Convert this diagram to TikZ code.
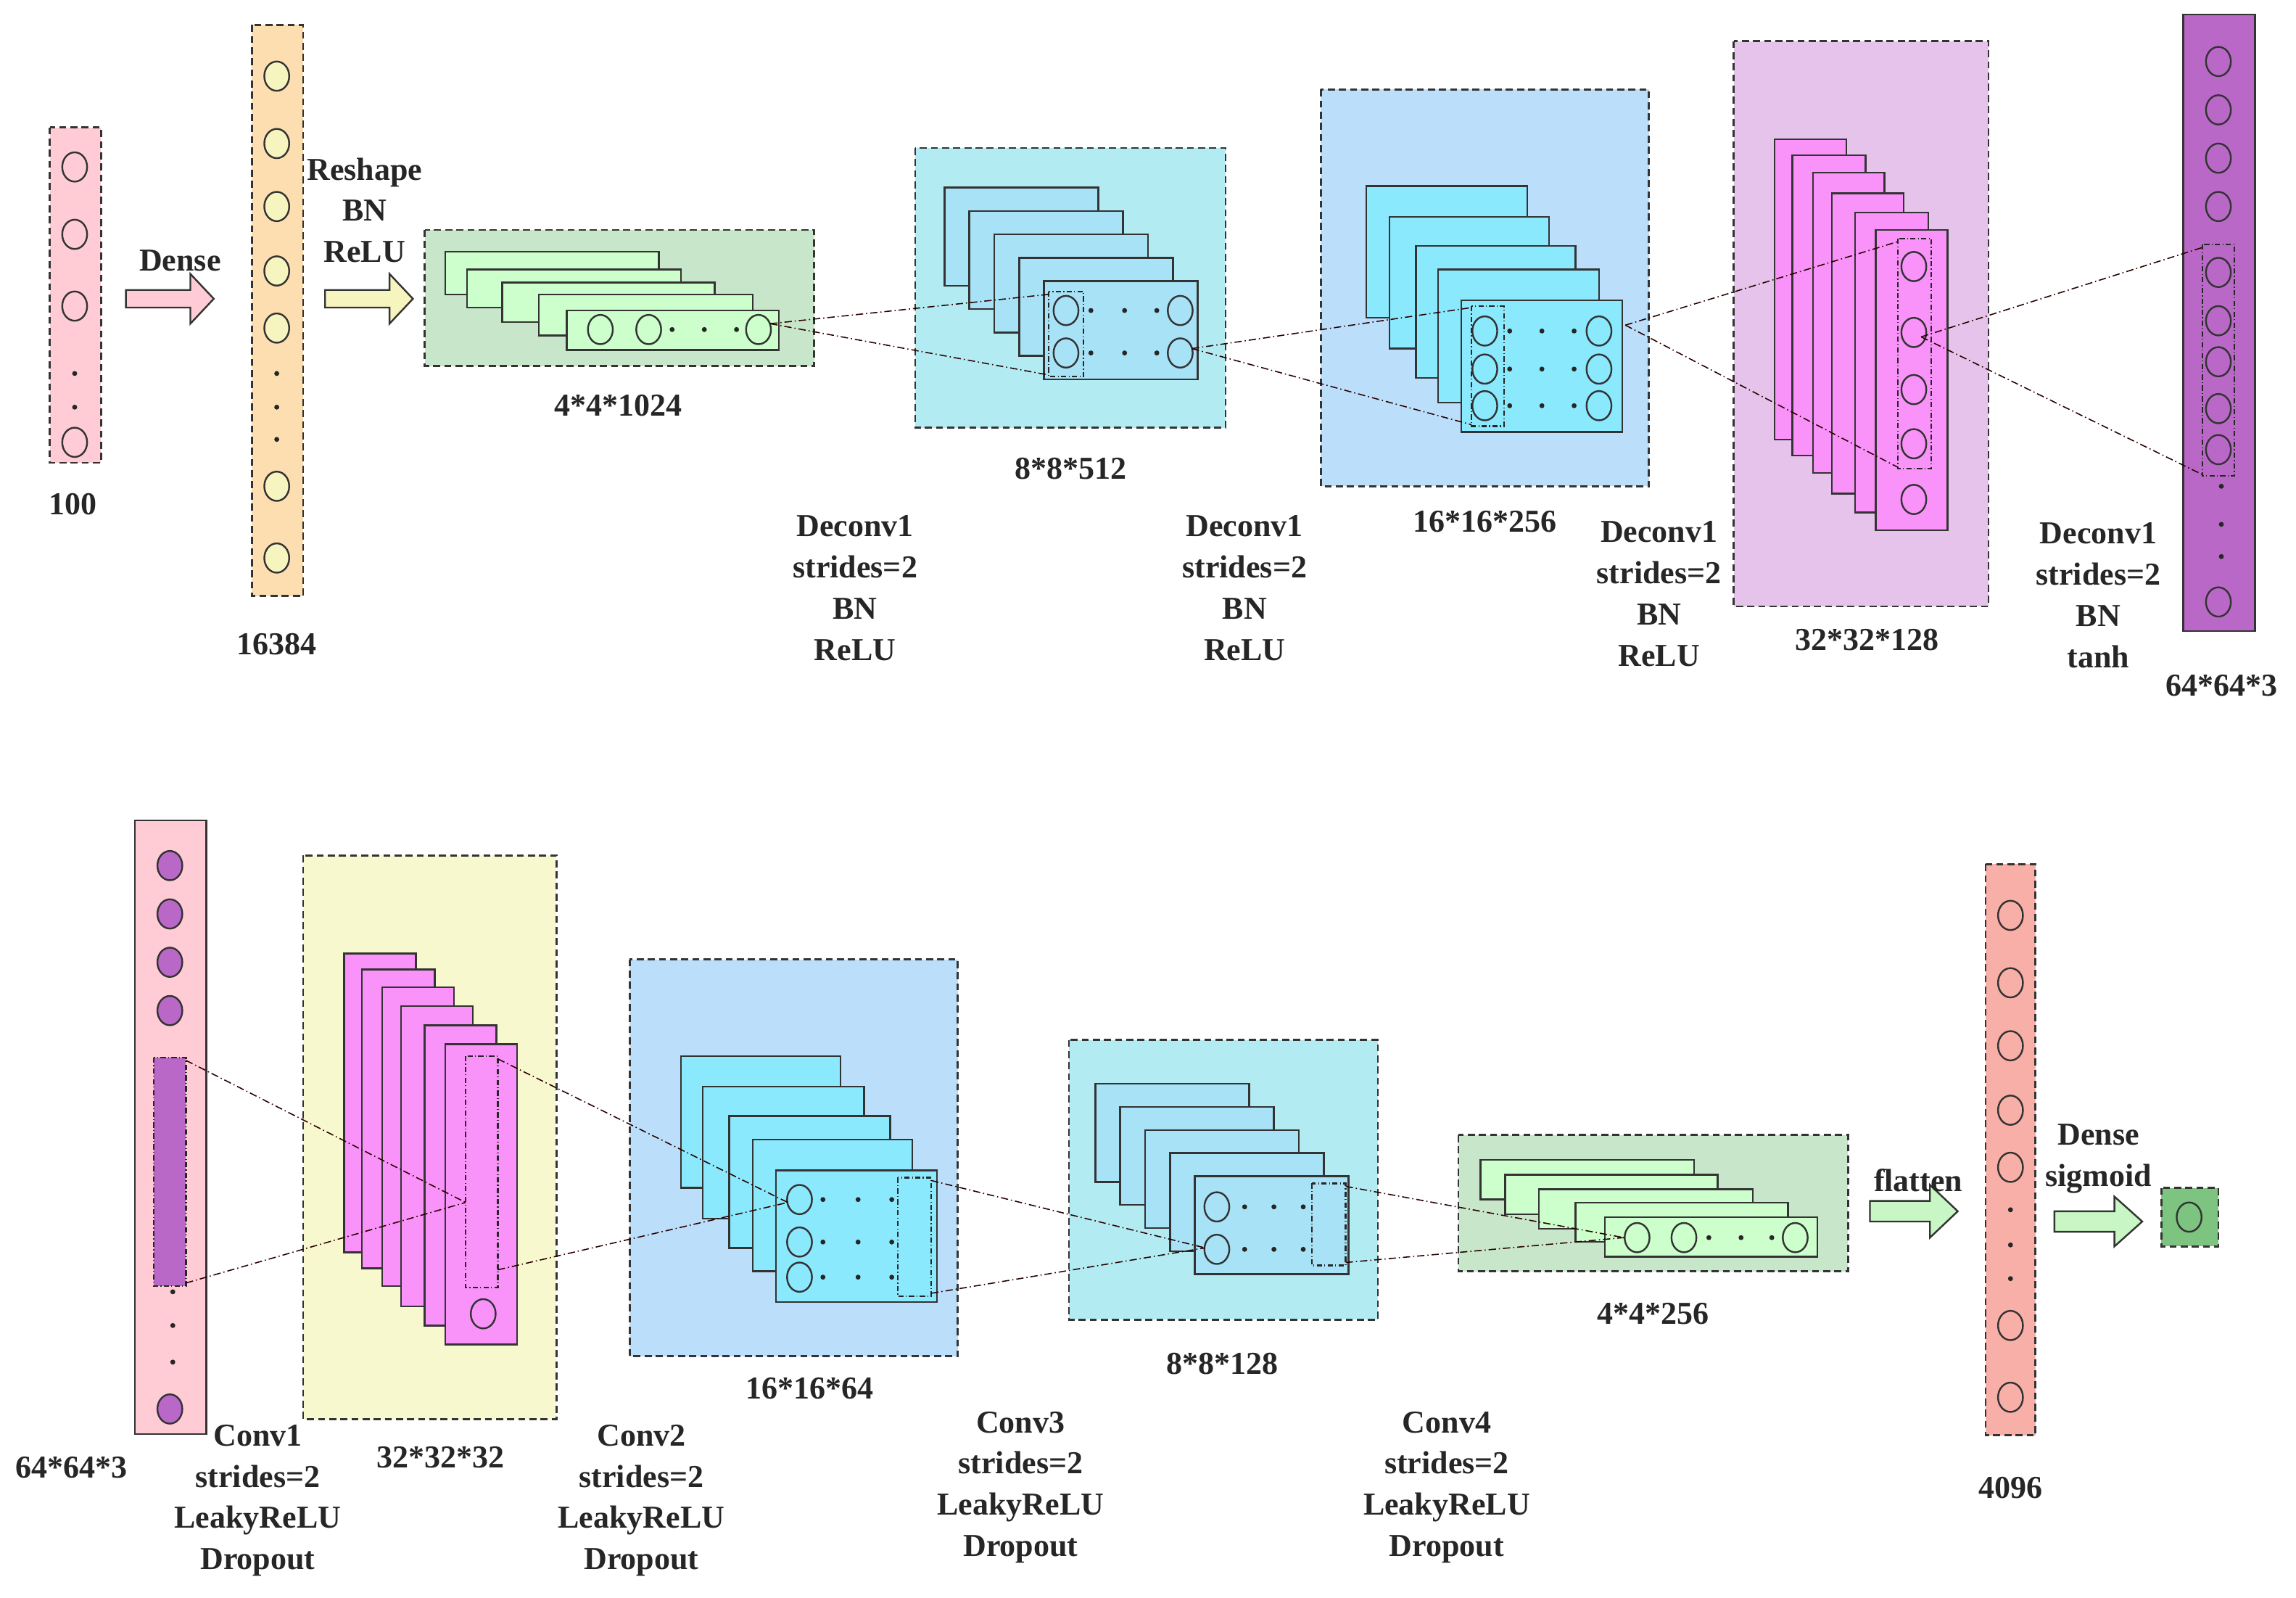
\documentclass[tikz,border=0pt]{standalone}
\usepackage{fontspec}
\setmainfont{Liberation Serif}
\begin{document}
\begin{tikzpicture}[x=0.5mm,y=-0.5mm,
  lay/.style={draw=black!80,line width=1.7pt},
  dbox/.style={draw=black!80,line width=1.9pt,dash pattern=on 2.4mm off 1.4mm},
  dd/.style={draw=black!85,line width=1.6pt,dash pattern=on 1.8mm off 0.8mm on 0.3mm off 0.8mm},
  conn/.style={draw=black!60!red!40!black,line width=1.1pt,dash pattern=on 2.5mm off 1mm on 0.4mm off 1mm},
  lbl/.style={font=\bfseries\fontsize{31}{40}\selectfont,align=center,text=black!85,inner sep=0pt}]
\definecolor{cpink}{HTML}{FFCCD5}
\definecolor{corange}{HTML}{FDDEB0}
\definecolor{cyel}{HTML}{F7F5BF}
\definecolor{cgbox}{HTML}{C8E6C9}
\definecolor{cglay}{HTML}{CCFFCC}
\definecolor{ccbox}{HTML}{B2EBF2}
\definecolor{cclay}{HTML}{A8E2F6}
\definecolor{cbbox}{HTML}{BBDEFB}
\definecolor{ccyan}{HTML}{8BE9FD}
\definecolor{cvbox}{HTML}{E6C3EA}
\definecolor{cmag}{HTML}{F993F9}
\definecolor{cpur}{HTML}{BA68C8}
\definecolor{cybox}{HTML}{F8F8CF}
\definecolor{csal}{HTML}{F8AFA8}
\definecolor{cdg}{HTML}{7CC47F}
\definecolor{carr}{HTML}{C8F7C5}
\newcommand\neur[3][none]{\draw[line width=1.7pt,draw=black!80,fill=#1] (#2,#3) ellipse [x radius=8.5,y radius=10];}
\newcommand\pt[2]{\fill[black!85] (#1,#2) circle [radius=1.7];}
\newcommand\lyr[5]{\filldraw[lay,fill=#5] (#1,#2) rectangle (#3,#4);}
\newcommand\barrow[7]{\filldraw[draw=black!80,line width=1.7pt,fill=#7] (#1,#4-#5) -- (#2,#4-#5) -- (#2,#4-#6) -- (#3,#4) -- (#2,#4+#6) -- (#2,#4+#5) -- (#1,#4+#5) -- cycle;}
\useasboundingbox (0,0) rectangle (1568,1091);
\fill[white] (0,0) rectangle (1568,1091);
% ---------- top row ----------
\filldraw[dbox,fill=cpink] (34,87) rectangle (69,316);
\foreach \y in {114,160,209,302} {\neur{51}{\y}}
\pt{51}{255}\pt{51}{278}
\node[lbl] (l100) at (50,344) {100};
\barrow{86}{130}{146}{204}{6}{17}{cpink}
\node[lbl] (ldense) at (123,178) {Dense};
\filldraw[dbox,fill=corange] (172,17) rectangle (207,407);
\foreach \y in {52,98,141,185,224,332,381} {\neur[cyel]{189}{\y}}
\pt{189}{255}\pt{189}{278}\pt{189}{300}
\node[lbl] (l16384) at (189,440) {16384};
\node[lbl] (lresh) at (249,143.5) {Reshape\\BN\\ReLU};
\barrow{222}{266}{282}{204}{6}{17}{cyel}
% 4*4*1024
\filldraw[dbox,fill=cgbox] (290,157) rectangle (556,250);
\lyr{304}{172}{450}{201}{cglay}
\lyr{319}{184}{465}{210}{cglay}
\lyr{343}{193}{488}{220}{cglay}
\lyr{368}{201}{514}{229}{cglay}
\lyr{387}{212}{532}{239}{cglay}
\neur{410}{225}\neur{443}{225}\neur{518}{225}
\pt{459}{225}\pt{481}{225}\pt{503}{225}
\coordinate (g1) at (526,221);
\node[lbl] (l1024) at (422,277) {4*4*1024};
% 8*8*512
\filldraw[dbox,fill=ccbox] (625,101) rectangle (837,292);
\foreach \i in {0,...,4} {\pgfmathsetmacro\xa{645+\i*17}\pgfmathsetmacro\ya{128+\i*16}\lyr{\xa}{\ya}{\xa+105}{\ya+67}{cclay}}
\neur{728}{212}\neur{728}{241}\neur{806}{212}\neur{806}{241}
\foreach \x in {745,768,790} {\pt{\x}{212}\pt{\x}{241}}
\draw[dd] (716,199) rectangle (740,257);
\coordinate (b2a) at (716,201); \coordinate (b2b) at (716,256); \coordinate (b2o) at (814,238);
\node[lbl] (l512) at (731,320) {8*8*512};
% 16*16*256
\filldraw[dbox,fill=cbbox] (902,61) rectangle (1126,332);
\lyr{933}{127}{1043}{217}{ccyan}
\lyr{949}{148}{1058}{238}{ccyan}
\lyr{967}{168}{1076}{258}{ccyan}
\lyr{982}{184}{1092}{275}{ccyan}
\lyr{998}{205}{1108}{295}{ccyan}
\foreach \y in {226,252,277} {\neur{1014}{\y}\neur{1092}{\y}\pt{1031}{\y}\pt{1053}{\y}\pt{1075}{\y}}
\draw[dd] (1005,209) rectangle (1027,291);
\coordinate (b3a) at (1005,210); \coordinate (b3b) at (1005,290); \coordinate (b3o) at (1110,222);
\node[lbl] (l256) at (1014,356) {16*16*256};
% 32*32*128
\filldraw[dbox,fill=cvbox] (1184,28) rectangle (1358,414);
\lyr{1212}{95}{1261}{300}{cmag}
\lyr{1224}{106}{1274}{311}{cmag}
\lyr{1238}{118}{1287}{323}{cmag}
\lyr{1251}{132}{1300}{337}{cmag}
\lyr{1267}{145}{1317}{350}{cmag}
\lyr{1281}{157}{1330}{362}{cmag}
\foreach \y in {182,227,266,303,341} {\neur{1307}{\y}}
\draw[dd] (1296,163) rectangle (1319,320);
\coordinate (b4a) at (1296,165); \coordinate (b4b) at (1296,319); \coordinate (b4o) at (1312,230);
\node[lbl] (l128) at (1275,437) {32*32*128};
% 64*64*3
\filldraw[lay,fill=cpur] (1491,10) rectangle (1540,431);
\foreach \y in {42,75,108,141,186,219,247,279,307,411} {\neur{1515}{\y}}
\pt{1517}{332}\pt{1517}{358}\pt{1517}{380}
\draw[dd] (1504,167) rectangle (1526,325);
\coordinate (b5a) at (1504,169); \coordinate (b5b) at (1504,324);
\node[lbl] (l643) at (1517,468) {64*64*3};
\draw[conn] (g1) -- (b2a); \draw[conn] (g1) -- (b2b);
\draw[conn] (b2o) -- (b3a); \draw[conn] (b2o) -- (b3b);
\draw[conn] (b3o) -- (b4a); \draw[conn] (b3o) -- (b4b);
\draw[conn] (b4o) -- (b5a); \draw[conn] (b4o) -- (b5b);
\node[lbl] (d1) at (584,401.5) {Deconv1\\strides=2\\BN\\ReLU};
\node[lbl] (d2) at (850,401.5) {Deconv1\\strides=2\\BN\\ReLU};
\node[lbl] (d3) at (1133,405.5) {Deconv1\\strides=2\\BN\\ReLU};
\node[lbl] (d4) at (1433,406.5) {Deconv1\\strides=2\\BN\\tanh};
% ---------- bottom row ----------
\filldraw[lay,fill=cpink] (92,560) rectangle (141,979);
\foreach \y in {591,624,657,690,962} {\neur[cpur]{116}{\y}}
\filldraw[dd,fill=cpur] (105,722) rectangle (127,878);
\pt{118}{882}\pt{118}{905}\pt{118}{930}
\coordinate (c1a) at (127,724); \coordinate (c1b) at (127,876);
\node[lbl] (lb643) at (49,1002) {64*64*3};
\filldraw[dbox,fill=cybox] (207,584) rectangle (380,969);
\lyr{235}{651}{284}{855}{cmag}
\lyr{247}{662}{297}{866}{cmag}
\lyr{261}{674}{310}{878}{cmag}
\lyr{274}{687}{323}{892}{cmag}
\lyr{290}{700}{339}{905}{cmag}
\lyr{304}{713}{353}{918}{cmag}
\draw[dd] (318,721) rectangle (340,879);
\neur{330}{897}
\coordinate (c2m) at (318,821); \coordinate (c2a) at (340,723); \coordinate (c2b) at (340,867);
\node[lbl] (l3232) at (301,995) {32*32*32};
\filldraw[dbox,fill=cbbox] (430,655) rectangle (654,926);
\lyr{465}{721}{574}{811}{ccyan}
\lyr{480}{742}{590}{832}{ccyan}
\lyr{498}{762}{608}{852}{ccyan}
\lyr{514}{778}{623}{868}{ccyan}
\lyr{530}{799}{640}{889}{ccyan}
\foreach \y in {819,848,872} {\neur{546}{\y}\pt{562}{\y}\pt{586}{\y}\pt{609}{\y}}
\draw[dd] (613,804) rectangle (636,885);
\coordinate (c3m) at (538,821); \coordinate (c3a) at (636,806); \coordinate (c3b) at (636,883);
\node[lbl] (l64) at (553,948) {16*16*64};
\filldraw[dbox,fill=ccbox] (730,710) rectangle (941,901);
\foreach \i in {0,...,4} {\pgfmathsetmacro\xa{748+\i*17}\pgfmathsetmacro\ya{740+\i*15.75}\lyr{\xa}{\ya}{\xa+105}{\ya+67}{cclay}}
\neur{831}{824}\neur{831}{853}
\foreach \x in {850,870,890} {\pt{\x}{824}\pt{\x}{853}}
\draw[dd] (896,808) rectangle (919,864);
\coordinate (c4m) at (823,852); \coordinate (c4a) at (919,810); \coordinate (c4b) at (919,862);
\node[lbl] (l128b) at (835,931) {8*8*128};
\filldraw[dbox,fill=cgbox] (996,775) rectangle (1262,868);
\lyr{1011}{792}{1157}{819}{cglay}
\lyr{1028}{802}{1173}{829}{cglay}
\lyr{1051}{812}{1197}{839}{cglay}
\lyr{1076}{821}{1221}{848}{cglay}
\lyr{1096}{831}{1241}{858}{cglay}
\neur{1118}{845}\neur{1150}{845}\neur{1226}{845}
\pt{1167}{845}\pt{1189}{845}\pt{1210}{845}
\coordinate (c5m) at (1109,845);
\node[lbl] (l256b) at (1129,897) {4*4*256};
\draw[conn] (c1a) -- (c2m); \draw[conn] (c1b) -- (c2m);
\draw[conn] (c2a) -- (c3m); \draw[conn] (c2b) -- (c3m);
\draw[conn] (c3a) -- (c4m); \draw[conn] (c3b) -- (c4m);
\draw[conn] (c4a) -- (c5m); \draw[conn] (c4b) -- (c5m);
\barrow{1277}{1318}{1337}{827}{7}{18}{carr}
\node[lbl] (lfl) at (1310,806) {flatten};
\filldraw[dbox,fill=csal] (1356,590) rectangle (1390,980);
\foreach \y in {625,671,714,758,797,905,954} {\neur{1373}{\y}}
\pt{1373}{826}\pt{1373}{850}\pt{1373}{873}
\node[lbl] (l4096) at (1373,1016) {4096};
\node[lbl] (lds) at (1433,791) {Dense\\sigmoid};
\barrow{1403}{1444}{1463}{834}{7}{17}{carr}
\filldraw[dbox,fill=cdg] (1476,811) rectangle (1515,851);
\neur{1495}{831}
\node[lbl] (e1) at (176,1024.5) {Conv1\\strides=2\\LeakyReLU\\Dropout};
\node[lbl] (e2) at (438,1024.5) {Conv2\\strides=2\\LeakyReLU\\Dropout};
\node[lbl] (e3) at (697,1015.5) {Conv3\\strides=2\\LeakyReLU\\Dropout};
\node[lbl] (e4) at (988,1015.5) {Conv4\\strides=2\\LeakyReLU\\Dropout};
\end{tikzpicture}
\end{document}
